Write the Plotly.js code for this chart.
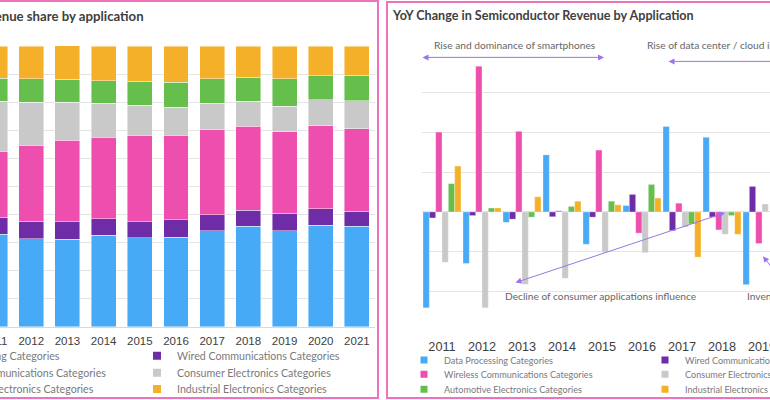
<!DOCTYPE html>
<html>
<head>
<meta charset="utf-8">
<script src="https://cdn.plot.ly/plotly-3.0.1.min.js"></script>
<style>
  html, body { margin: 0; padding: 0; background: #ffffff; }
  #stage { position: relative; width: 770px; height: 400px; overflow: hidden; background: #fff; }
  .frame { position: absolute; box-sizing: border-box; border: 2px solid #ef72bd; background: #fff; overflow: hidden; }
  #frameL { left: -120px; top: 0px; width: 499px; height: 399px; }
  #frameR { left: 386px; top: 1px; width: 520px; height: 398px; }
</style>
</head>
<body>
<div id="stage">
  <div class="frame" id="frameL"><div id="chartL"></div></div>
  <div class="frame" id="frameR"><div id="chartR"></div></div>
</div>
<script>
// ---------- data ----------
const years = ['2011','2012','2013','2014','2015','2016','2017','2018','2019','2020','2021'];
const seriesNames = [
  'Data Processing Categories',
  'Wired Communications Categories',
  'Wireless Communications Categories',
  'Consumer Electronics Categories',
  'Automotive Electronics Categories',
  'Industrial Electronics Categories'
];
// revenue share (%), stacked
const dataProcShare   = [33.0, 31.4, 31.2, 32.6, 31.8, 32.0, 34.2, 35.9, 34.2, 36.2, 35.9];
const wiredShare      = [6.0, 6.3, 6.2, 5.9, 5.7, 6.2, 5.8, 5.6, 6.2, 5.8, 5.3];
const wirelessShare   = [23.6, 27.0, 29.1, 29.1, 30.7, 30.0, 30.2, 30.0, 29.1, 29.6, 29.3];
const consumerShare   = [17.8, 15.4, 13.5, 12.0, 10.8, 10.0, 9.4, 8.8, 9.1, 9.3, 10.1];
const autoShare       = [8.1, 8.3, 8.2, 8.0, 8.5, 9.0, 8.8, 8.6, 9.7, 8.5, 9.1];
const industrialShare = [11.5, 11.5, 11.9, 12.3, 12.5, 12.8, 11.6, 11.0, 11.7, 10.6, 10.2];
// YoY change (%), grouped
const dataProcYoY   = [-24.0, -12.9, -2.6, 14.3, -8.1, 1.6, 21.4, 18.7, -18.2, null, null];
const wiredYoY      = [-1.5, -0.9, -1.8, -1.2, -1.3, 4.4, -4.7, -1.3, 6.4, null, null];
const wirelessYoY   = [20.0, 36.5, 20.2, 0.3, 15.5, -5.3, 2.2, -4.5, -7.9, null, null];
const consumerYoY   = [-12.6, -24.0, -18.1, -16.6, -10.1, -10.2, -3.8, -5.6, 2.0, null, null];
const autoYoY       = [7.1, 1.0, -1.3, 1.4, 2.7, 6.9, -3.0, -0.9, null, null, null];
const industrialYoY = [11.5, 1.0, 3.8, 2.7, 1.8, 3.5, -11.3, -5.6, null, null, null];

const colors = ['#47aaf6', '#6e2ca6', '#ee4eae', '#c9c9c9', '#66bf4d', '#f5b02a'];
const shareSeries = [dataProcShare, wiredShare, wirelessShare, consumerShare, autoShare, industrialShare];
const yoySeries = [dataProcYoY, wiredYoY, wirelessYoY, consumerYoY, autoYoY, industrialYoY];
const legendIds = ['legend', 'legend2', 'legend3', 'legend4', 'legend5', 'legend6'];

const TXT = '#404040';
const LEG = '#7a7a7a';
const GRID = '#e4e4e4';
const TICKFONT = 'Arial, "Liberation Sans", sans-serif';
const BODYFONT = 'Lato, Calibri, "Noto Sans", sans-serif';

function legendTraces(size) {
  return seriesNames.map((n, i) => ({
    type: 'scatter', mode: 'markers', x: [null], y: [null], name: n,
    marker: { symbol: 'square', size: size, color: colors[i] },
    legend: legendIds[i], hoverinfo: 'skip'
  }));
}

// one legend per entry, laid out as a 2-column grid (row-wise order)
function legends(W, H, colsPx, rowsPx, fontSize) {
  const out = {};
  legendIds.forEach((k, i) => {
    const col = i % 2, row = Math.floor(i / 2);
    out[k] = {
      orientation: 'v', xref: 'container', yref: 'container',
      x: colsPx[col] / W, xanchor: 'left',
      y: 1 - rowsPx[row] / H, yanchor: 'middle',
      font: { family: BODYFONT, size: fontSize, color: LEG },
      bgcolor: 'rgba(0,0,0,0)', borderwidth: 0,
      itemclick: false, itemdoubleclick: false
    };
  });
  return out;
}

// ---------- left chart: share ----------
(function () {
  const W = 495, H = 395;
  const traces = shareSeries.map((vals, i) => ({
    type: 'bar', x: years, y: vals, name: seriesNames[i], showlegend: false,
    marker: { color: colors[i], line: { color: 'rgba(255,255,255,0.55)', width: 0.8 } },
    hoverinfo: 'x+y+name'
  })).concat(legendTraces(8));
  const layout = Object.assign({
    width: W, height: H,
    margin: { l: 95, r: 2, t: 44, b: 70, autoexpand: false },
    paper_bgcolor: '#fff', plot_bgcolor: '#fff',
    barmode: 'stack', bargap: 0.31,
    title: {
      text: 'Revenue share by application', xref: 'container', yref: 'container',
      x: 91 / W, xanchor: 'left', y: 1 - 14 / H, yanchor: 'middle',
      font: { family: BODYFONT, size: 13.2, color: TXT, weight: 'bold' }
    },
    xaxis: {
      type: 'category', categoryarray: years, range: [-0.5, 10.5],
      showgrid: false, showline: true, linecolor: '#d9d9d9', linewidth: 1,
      ticks: '', tickfont: { family: TICKFONT, size: 11.5, color: TXT },
      ticklabelstandoff: 3, fixedrange: true
    },
    yaxis: {
      range: [-0.05, 100.05], dtick: 10, showticklabels: false, ticks: '',
      showgrid: true, gridcolor: GRID, gridwidth: 1, zeroline: false, showline: false, fixedrange: true
    },
    showlegend: true
  }, legends(W, H, [10, 255], [353.7, 370.7, 387], 10.65));
  Plotly.newPlot('chartL', traces, layout, { displayModeBar: false, staticPlot: true });
})();

// ---------- right chart: YoY ----------
(function () {
  const W = 516, H = 394;
  const yr = [-30.05, 40.05];
  const py = v => (v - yr[0]) / (yr[1] - yr[0]); // value -> paper fraction (for labels above the plot)
  const traces = yoySeries.map((vals, i) => ({
    type: 'bar', x: years, y: vals, name: seriesNames[i], showlegend: false,
    marker: { color: colors[i], line: { color: 'rgba(255,255,255,0.55)', width: 0.6 } },
    hoverinfo: 'x+y+name'
  })).concat(legendTraces(7));
  const annFont = { family: BODYFONT, size: 10.2, color: '#666666' };
  const arrowCol = '#9b73ee';
  const annotations = [
    { xref: 'x', yref: 'paper', x: -0.25, y: py(41.7), xanchor: 'left', yanchor: 'middle', showarrow: false,
      text: 'Rise and dominance of smartphones', font: annFont },
    { xref: 'x', yref: 'paper', x: 5.075, y: py(41.7), xanchor: 'left', yanchor: 'middle', showarrow: false,
      text: 'Rise of data center / cloud infrastructure', font: annFont },
    { xref: 'x', yref: 'y', x: 1.525, y: -21.1, xanchor: 'left', yanchor: 'middle', showarrow: false,
      text: 'Decline of consumer applications influence', font: annFont },
    { xref: 'x', yref: 'y', x: 7.575, y: -21.1, xanchor: 'left', yanchor: 'middle', showarrow: false,
      text: 'Inventory correction', font: annFont },
    // arrows
    { xref: 'x', yref: 'y', axref: 'x', ayref: 'y', x: 4.05, y: 38.7, ax: -0.525, ay: 38.7, text: '',
      showarrow: true, arrowside: 'end+start', arrowhead: 2, arrowsize: 1.2, arrowwidth: 1, arrowcolor: arrowCol },
    { xref: 'x', yref: 'y', axref: 'x', ayref: 'y', x: 10.3, y: 37.7, ax: 5.625, ay: 37.7, text: '',
      showarrow: true, arrowside: 'end+start', arrowhead: 2, arrowsize: 1.2, arrowwidth: 1, arrowcolor: arrowCol },
    { xref: 'x', yref: 'y', axref: 'x', ayref: 'y', x: 7.075, y: -0.2, ax: 1.8, ay: -17.8, text: '',
      showarrow: true, arrowside: 'end+start', arrowhead: 2, arrowsize: 1.2, arrowwidth: 1, arrowcolor: arrowCol },
    { xref: 'x', yref: 'y', axref: 'x', ayref: 'y', x: 8.025, y: -11.1, ax: 8.7, ay: -19.6, text: '',
      showarrow: true, arrowhead: 2, arrowsize: 1.2, arrowwidth: 1, arrowcolor: arrowCol }
  ];
  const layout = Object.assign({
    width: W, height: H,
    margin: { l: 34, r: 42, t: 49, b: 65, autoexpand: false },
    paper_bgcolor: '#fff', plot_bgcolor: '#fff',
    barmode: 'group', bargap: 0.05, bargroupgap: 0,
    title: {
      text: 'YoY Change in Semiconductor Revenue by Application', xref: 'container', yref: 'container',
      x: 5 / W, xanchor: 'left', y: 1 - 13 / H, yanchor: 'middle',
      font: { family: BODYFONT, size: 12.6, color: TXT, weight: 'bold' }
    },
    xaxis: {
      type: 'category', categoryarray: years, range: [-0.5, 10.5],
      showgrid: false, showline: false, ticks: '',
      tickfont: { family: TICKFONT, size: 12.7, color: TXT },
      ticklabelstandoff: 5, fixedrange: true
    },
    yaxis: {
      range: yr, dtick: 10, showticklabels: false, ticks: '',
      showgrid: true, gridcolor: GRID, gridwidth: 1,
      zeroline: true, zerolinecolor: '#dcdcdc', zerolinewidth: 1, showline: false, fixedrange: true
    },
    annotations: annotations,
    showlegend: true
  }, legends(W, H, [16, 257], [357, 371.3, 386.3], 9.1));
  Plotly.newPlot('chartR', traces, layout, { displayModeBar: false, staticPlot: true });
})();
</script>
</body>
</html>
